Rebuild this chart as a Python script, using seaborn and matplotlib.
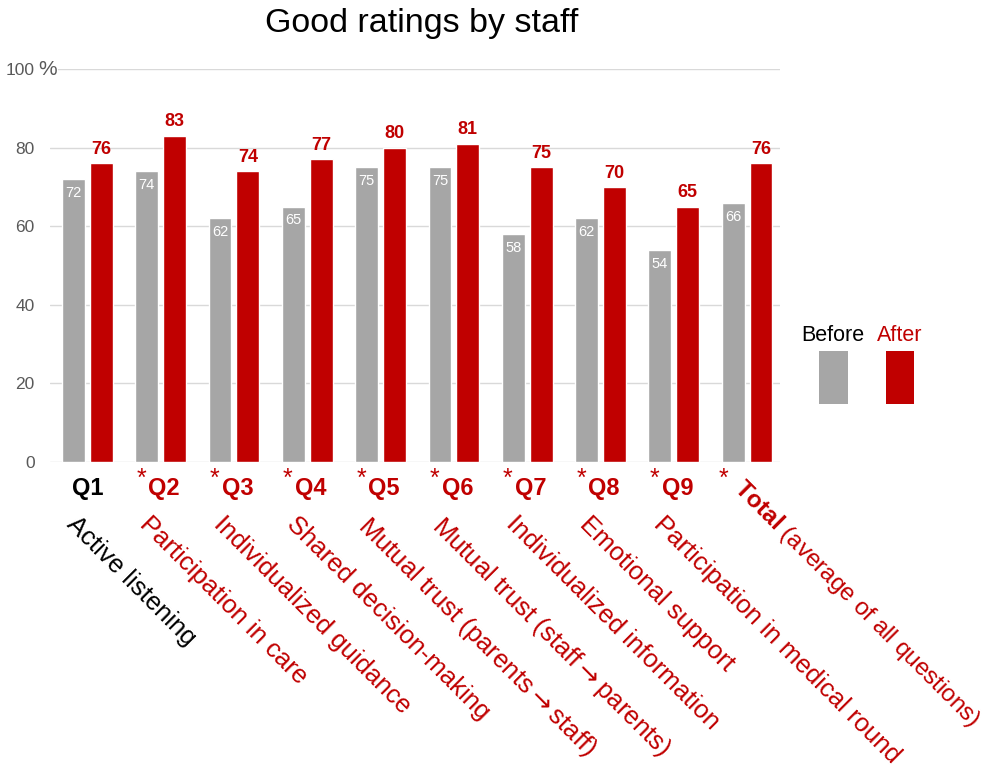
import matplotlib
matplotlib.use("Agg")
import matplotlib.pyplot as plt
from matplotlib.patches import Rectangle
import seaborn as sns
import pandas as pd

# Survey items and share of "good" ratings (%)
questions = ["Q1", "Q2", "Q3", "Q4", "Q5", "Q6", "Q7", "Q8", "Q9", "Total"]
ARROW = r"$\mathsf{\rightarrow}$"
descriptions = [
    "Active listening",
    "Participation in care",
    "Individualized guidance",
    "Shared decision-making",
    "Mutual trust (parents" + ARROW + "staff)",
    "Mutual trust (staff" + ARROW + "parents)",
    "Individualized information",
    "Emotional support",
    "Participation in medical round",
    "(average of all questions)",
]
significant = [False, True, True, True, True, True, True, True, True, True]
before = [72, 74, 62, 65, 75, 75, 58, 62, 54, 66]
after = [76, 83, 74, 77, 80, 81, 75, 70, 65, 76]
periods = ["Before", "After"]
y_ticks = [0, 20, 40, 60, 80, 100]

GRAY = "#A6A6A6"
RED = "#C00000"
TXT = "#595959"

sns.set_theme(style="white")
plt.rcParams["font.family"] = ["Liberation Sans", "DejaVu Sans"]
plt.rcParams["mathtext.fontset"] = "custom"
plt.rcParams["mathtext.rm"] = "Liberation Sans"
plt.rcParams["mathtext.bf"] = "Liberation Sans:bold"
plt.rcParams["mathtext.sf"] = "DejaVu Sans"

df = pd.DataFrame({
    "question": questions * 2,
    "period": [periods[0]] * len(questions) + [periods[1]] * len(questions),
    "value": before + after,
})

fig = plt.figure(figsize=(9.9, 7.72), dpi=100)
ax = fig.add_axes([0.0505, 0.4016, 0.7375, 0.509])

sns.barplot(data=df, x="question", y="value", hue="period", order=questions,
            hue_order=periods, palette=[GRAY, RED], width=0.76, gap=0.18,
            legend=False, ax=ax, saturation=1)

ax.set_ylim(0, 100)
ax.set_xlim(-0.51, len(questions) - 1 + 0.45)
ax.set_yticks(y_ticks)
ax.set_yticklabels([str(t) for t in y_ticks])
ax.tick_params(axis="y", length=0, pad=11, labelsize=12.5, labelcolor=TXT)
ax.tick_params(axis="x", length=0, labelbottom=False)
ax.set_xlabel("")
ax.set_ylabel("")
ax.grid(axis="y", color="#D9D9D9", linewidth=1)
ax.set_axisbelow(True)
for s in ax.spines.values():
    s.set_visible(False)

# "%" sign next to the top tick label
ax.annotate("%", xy=(0, 100), xycoords=("axes fraction", "data"),
            xytext=(-2, 0), textcoords="offset points", ha="center",
            va="center", fontsize=15, color=TXT,
            bbox=dict(facecolor="white", edgecolor="none", pad=1))

# Value labels
for k, (bars, vals) in enumerate(zip(ax.containers, [before, after])):
    for rect, v in zip(bars, vals):
        cx = rect.get_x() + rect.get_width() / 2
        if k == 0:
            ax.annotate(str(v), xy=(cx, v), xytext=(0, -10),
                        textcoords="offset points", ha="center", va="center",
                        color="white", fontsize=10.5)
        else:
            ax.annotate(str(v), xy=(cx, v), xytext=(0, 10),
                        textcoords="offset points", ha="center", va="center",
                        color=RED, fontsize=13, fontweight="bold")

# Category labels below the axis
for i, (q, d, sig) in enumerate(zip(questions, descriptions, significant)):
    col = RED if sig else "black"
    if q == "Total":
        ax.annotate("*", xy=(i, 0), xytext=(-17, -12), textcoords="offset points",
                    ha="center", va="center", fontsize=18, color=col)
        ax.annotate(r"$\mathbf{Total}$ " + d, xy=(i, 0), xytext=(0, -9),
                    textcoords="offset points", ha="left", va="top",
                    rotation=-45, rotation_mode="anchor", fontsize=17.5, color=col)
        continue
    dx = 2.5 if sig else 0
    ax.annotate(q, xy=(i, 0), xytext=(dx, -19), textcoords="offset points",
                ha="center", va="center", fontsize=17, fontweight="bold", color=col)
    if sig:
        ax.annotate("*", xy=(i, 0), xytext=(-14, -12), textcoords="offset points",
                    ha="center", va="center", fontsize=18, color=col)
    ax.annotate(d, xy=(i, 0), xytext=(-6, -36), textcoords="offset points",
                ha="left", va="top", rotation=-45, rotation_mode="anchor",
                fontsize=18.5, color=col)

fig.text(0.426, 0.970, "Good ratings by staff", ha="center", va="center",
         fontsize=24.5, color="black")

# Legend
fig.text(0.841, 0.566, "Before", ha="center", va="center", fontsize=15.5, color="black")
fig.text(0.909, 0.566, "After", ha="center", va="center", fontsize=15.5, color=RED)
fig.add_artist(Rectangle((819 / 990, 1 - 404 / 772), 29 / 990, 53 / 772,
                         transform=fig.transFigure, facecolor=GRAY, edgecolor="none"))
fig.add_artist(Rectangle((886 / 990, 1 - 404 / 772), 28 / 990, 53 / 772,
                         transform=fig.transFigure, facecolor=RED, edgecolor="none"))

fig.savefig("out.png", dpi=100, facecolor="white")
